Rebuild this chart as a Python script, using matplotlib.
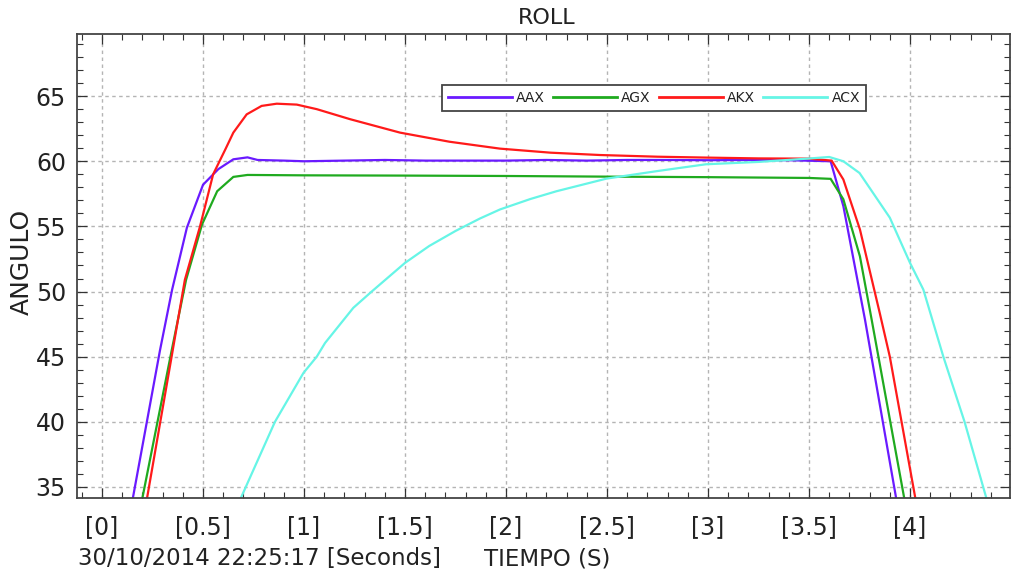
import matplotlib
matplotlib.use("Agg")
import matplotlib.pyplot as plt
from matplotlib.ticker import FixedLocator, FixedFormatter, MultipleLocator

# ---------------- data ----------------
aax_t = [0.139, 0.287, 0.347, 0.42, 0.50, 0.576, 0.65, 0.72, 0.77, 0.9, 1.0, 1.2, 1.4, 1.6,
         1.8, 2.0, 2.2, 2.4, 2.6, 2.8, 3.0, 3.2, 3.4, 3.607, 3.67, 3.777, 3.93, 3.944]
aax_v = [33.0, 45.5, 50.15, 54.9, 58.2, 59.4, 60.15, 60.3, 60.1, 60.05, 60.0, 60.05, 60.1, 60.05,
         60.05, 60.05, 60.1, 60.05, 60.1, 60.1, 60.08, 60.1, 60.08, 60.0, 56.56, 47.85, 34.25, 33.0]

agx_t = [0.185, 0.345, 0.416, 0.495, 0.57, 0.65, 0.72, 1.0, 1.5, 2.0, 2.5, 3.0, 3.5,
         3.607, 3.67, 3.752, 3.81, 3.97, 3.985]
agx_v = [33.0, 45.5, 50.9, 55.15, 57.7, 58.8, 58.95, 58.92, 58.9, 58.87, 58.82, 58.78, 58.72,
         58.65, 57.08, 52.7, 47.85, 34.25, 33.0]

akx_t = [0.21, 0.35, 0.41, 0.485, 0.55, 0.61, 0.65, 0.716, 0.79, 0.865, 0.964, 1.063, 1.228,
         1.475, 1.72, 1.97, 2.22, 2.465, 2.75, 3.0, 3.25, 3.5, 3.612, 3.67, 3.752, 3.85, 3.9,
         4.025, 4.04]
akx_v = [33.0, 45.5, 50.9, 55.0, 59.0, 60.9, 62.2, 63.6, 64.25, 64.42, 64.35, 64.0, 63.23,
         62.2, 61.5, 60.97, 60.66, 60.48, 60.35, 60.28, 60.22, 60.2, 60.05, 58.6, 54.77, 48.36,
         45.0, 34.25, 33.0]

acx_t = [0.654, 0.856, 0.997, 1.063, 1.104, 1.244, 1.335, 1.5, 1.62, 1.75, 1.87, 1.97, 2.12,
         2.25, 2.498, 2.75, 2.99, 3.25, 3.49, 3.6, 3.67, 3.75, 3.9, 4.0, 4.066, 4.165, 4.27,
         4.376, 4.399]
acx_v = [33.0, 40.0, 43.75, 45.0, 46.05, 48.75, 50.0, 52.2, 53.5, 54.65, 55.6, 56.3, 57.1,
         57.7, 58.67, 59.25, 59.77, 59.95, 60.2, 60.33, 60.0, 59.1, 55.67, 52.2, 50.15, 45.0,
         40.0, 34.25, 33.0]

series_names = ["AAX", "AGX", "AKX", "ACX"]
x_ticks = [0, 0.5, 1, 1.5, 2, 2.5, 3, 3.5, 4]
x_tick_labels = ["[0]", "[0.5]", "[1]", "[1.5]", "[2]", "[2.5]", "[3]", "[3.5]", "[4]"]
y_ticks = [35, 40, 45, 50, 55, 60, 65]

title = "ROLL"
y_label = "ANGULO"
date_label = "30/10/2014 22:25:17 [Seconds]"
x_label = "TIEMPO (S)"

# ---------------- styling ----------------
colors = ["#6a1aff", "#1faa1f", "#ff1a1a", "#66f5e6"]
txt_color = "#222222"
W, H = 1015, 575

fig = plt.figure(figsize=(W / 100, H / 100), dpi=100)
ax = fig.add_axes([77 / W, 1 - 498 / H, (1010 - 77) / W, (498 - 34) / H])

for (t, v), name, c in zip([(aax_t, aax_v), (agx_t, agx_v), (akx_t, akx_v), (acx_t, acx_v)],
                           series_names, colors):
    ax.plot(t, v, color=c, lw=1.6, label=name, solid_joinstyle="miter")

ax.set_xlim(-0.124, 4.495)
ax.set_ylim(34.15, 69.77)

ax.xaxis.set_major_locator(FixedLocator(x_ticks))
ax.xaxis.set_major_formatter(FixedFormatter(x_tick_labels))
ax.xaxis.set_minor_locator(MultipleLocator(0.1))
ax.yaxis.set_major_locator(FixedLocator(y_ticks))
ax.yaxis.set_minor_locator(MultipleLocator(1))

ax.tick_params(which="both", direction="in", top=True, right=True, color="#333333",
               labelcolor=txt_color)
ax.tick_params(which="major", length=7.5, width=0.9, labelsize=17)
ax.tick_params(which="minor", length=4.3, width=0.8)
ax.tick_params(axis="x", which="major", pad=12)
ax.tick_params(axis="y", which="major", pad=8)

ax.grid(True, which="major", color="#b4b4b4", lw=1.0, linestyle=(0, (2.5, 2.5)))
for s in ax.spines.values():
    s.set_color("#444444")
    s.set_linewidth(1.3)

leg = ax.legend(loc="center", bbox_to_anchor=(654 / W, 1 - 98 / H),
                bbox_transform=fig.transFigure, ncol=4, fontsize=10,
                handlelength=4.6, handletextpad=0.3, columnspacing=0.6,
                borderpad=0.45, borderaxespad=0, fancybox=False, framealpha=1,
                edgecolor="#444444")
leg.get_frame().set_linewidth(1.3)
for lh in leg.get_lines():
    lh.set_linewidth(2.0)
for tx in leg.get_texts():
    tx.set_color(txt_color)

fig.text(547 / W, 1 - 18 / H, title, ha="center", va="center", fontsize=16, color=txt_color)
fig.text(22 / W, 1 - 262 / H, y_label, ha="center", va="center", rotation=90,
         fontsize=18, color=txt_color)
fig.text(78 / W, 1 - 559 / H, date_label, ha="left", va="center", fontsize=16.5,
         color=txt_color)
fig.text(484 / W, 1 - 559 / H, x_label, ha="left", va="center", fontsize=16.5,
         color=txt_color)

fig.savefig("out.png", dpi=100)
